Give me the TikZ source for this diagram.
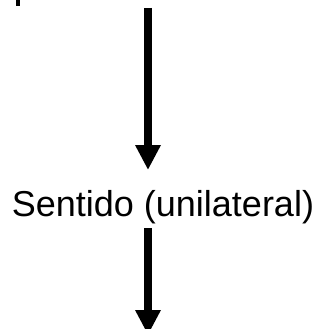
\documentclass[tikz,border=0pt]{standalone}
\usepackage{fontspec}
\setmainfont{Liberation Sans}
\usetikzlibrary{arrows.meta}

\begin{document}
\begin{tikzpicture}
  [x=1pt,y=-1pt,every node/.style={inner sep=0pt,font=\fontsize{36}{40}\selectfont},
   flow/.style={line width=7.5pt,-{Triangle[width=24pt,length=25pt]}}]
  \useasboundingbox (0,0) rectangle (323,329);
  \clip (0,0) rectangle (323,329);

  \fill (15.5,-2) rectangle (20,6);

  \coordinate (top) at (148,8);
  \coordinate (hd1) at (148,170);
  \node[anchor=base] (sentido) at (163,216) {Sentido (unilateral)};
  \coordinate (st2) at (148,228);
  \coordinate (hd2) at (148,335);

  \foreach \from/\to in {top/hd1,st2/hd2}
    \draw[flow] (\from) -- (\to);

\end{tikzpicture}
\end{document}
